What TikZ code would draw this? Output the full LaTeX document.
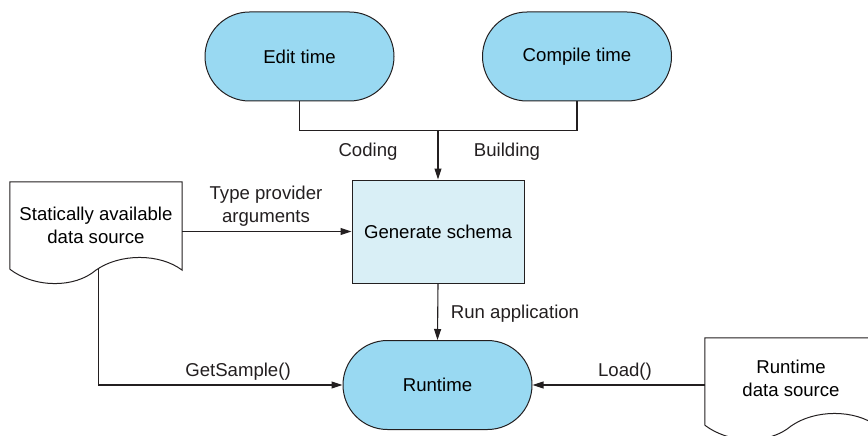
\documentclass[tikz,border=0pt]{standalone}
\usepackage{fontspec}
\setmainfont{Liberation Sans}
\usepackage{tikz}
\usetikzlibrary{
  arrows.meta,
  shapes.misc,
  positioning,
  calc
}
\definecolor{tpTerm}{HTML}{99D9F2}
\definecolor{tpBox}{HTML}{D9EFF6}
\definecolor{tpLine}{HTML}{231F20}

\tikzset{
  term/.style={rounded rectangle, draw=tpLine, fill=tpTerm, line width=1pt,
    minimum width=189pt, minimum height=89pt, inner sep=0pt},
  schema/.style={rectangle, draw=tpLine, fill=tpBox, line width=1pt,
    minimum width=172pt, minimum height=103pt, inner sep=0pt},
  docbox/.style={rectangle, minimum width=172pt, minimum height=87pt,
    inner sep=0pt, align=center},
  docline/.style={draw=tpLine, fill=white, line width=1pt},
  link/.style={draw=tpLine, line width=1.1pt},
  flow/.style={link, -{Triangle[length=11pt, width=7pt]}},
  lbl/.style={inner sep=0pt, text=tpLine}
}

% paper sheet with a wavy foot, drawn round a docbox node
\newcommand{\docoutline}[1]{%
  \draw[docline] (#1.south west) -- (#1.north west) -- (#1.north east)
    -- ($(#1.south east)+(0,1)$)
    .. controls ($(#1.south west)+(150,-16)$) and ($(#1.south west)+(110,-16)$) .. ($(#1.south west)+(86,1)$)
    .. controls ($(#1.south west)+(65,19)$) and ($(#1.south west)+(25,19)$) .. (#1.south west);
}

\begin{document}
\begin{tikzpicture}[x=1pt, y=-1pt, font=\fontsize{18.6}{23.5}\selectfont]
  \clip (0,0) rectangle (868,436);

  % terminals
  \foreach \name/\pos/\txt in {edit/{(299.5,56.5)}/{Edit time}, comp/{(577,56.5)}/{Compile time}, run/{(437.5,385)}/{Runtime}}{
    \node[term] (\name) at \pos {\txt};
  }
  \node[schema] (gen) at (438,231.5) {Generate schema};

  % data sources
  \node[docbox] (stat) at (96,225.5) {};
  \docoutline{stat}
  \node[docbox] (stattxt) at (stat) {Statically available\\data source};
  \node[docbox] (rtds) at (791,381.5) {};
  \docoutline{rtds}
  \node[docbox] (rtdstxt) at ($(rtds)+(0,-3)$) {Runtime\\data source};

  % connectors
  \coordinate (join) at ($(gen.north)+(0,-49)$);
  \coordinate (statfoot) at ($(stat.south west)+(89,0)$);
  \draw[link] (edit.south) |- (join) -| (comp.south);
  \draw[flow] (join) -- (gen.north);
  \draw[flow] (stat.east |- gen.west) -- (gen.west);
  \draw[flow] (gen.south) -- (run.north);
  \draw[flow] (statfoot) |- (run.west);
  \draw[flow] (rtds.west |- run.east) -- (run.east);

  % labels
  \node[lbl, anchor=base] (coding) at (368,156.5) {Coding};
  \node[lbl, anchor=base] (building) at (507,156.5) {Building};
  \node[lbl, align=center] (tpargs) at (266,206) {Type provider\\arguments};
  \node[lbl, anchor=base] (runapp) at (515,318) {Run application};
  \node[lbl, anchor=base] (getsample) at (238,376) {GetSample()};
  \node[lbl, anchor=base] (load) at (625,376) {Load()};
\end{tikzpicture}
\end{document}
